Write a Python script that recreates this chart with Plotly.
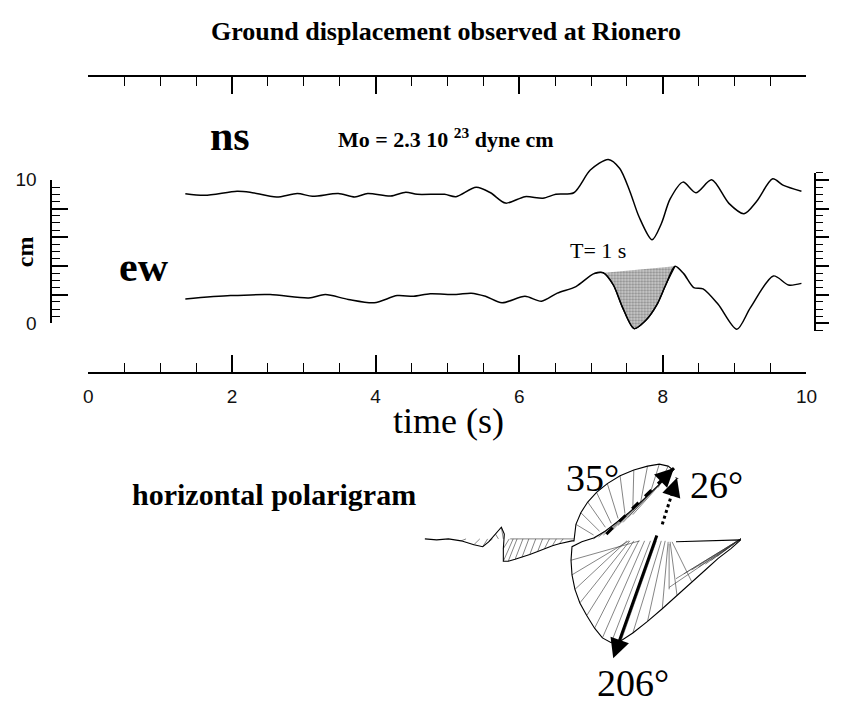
import plotly.graph_objects as go

# ---------------- data ----------------
# north-south component (time in s, displacement in cm)
ns_t = [1.35, 1.62, 2.07, 2.25, 2.62, 2.91, 3.12, 3.48, 3.71, 3.89, 4.21, 4.42, 4.58,
        4.96, 5.12, 5.40, 5.60, 5.81, 6.08, 6.33, 6.51, 6.76, 6.99, 7.24, 7.40, 7.54,
        7.67, 7.85, 7.98, 8.10, 8.28, 8.46, 8.68, 8.92, 9.13, 9.31, 9.53, 9.68, 9.93]
ns_cm = [9.03, 8.92, 9.21, 9.14, 8.80, 9.05, 8.85, 9.05, 8.80, 9.05, 8.87, 9.14, 8.99,
         8.99, 8.83, 9.48, 9.10, 8.38, 8.83, 8.72, 8.99, 9.10, 10.68, 11.42, 10.79, 9.21,
         7.41, 5.83, 6.96, 8.65, 9.84, 9.10, 10.00, 8.36, 7.64, 8.53, 10.07, 9.61, 9.21]

# east-west component
ew_t = [1.35, 1.98, 2.53, 3.07, 3.30, 3.62, 3.98, 4.30, 4.53, 4.76, 5.12, 5.33, 5.53,
        5.76, 6.08, 6.31, 6.53, 6.79, 7.04, 7.17, 7.31, 7.44, 7.60, 7.76, 7.92, 8.04,
        8.17, 8.29, 8.43, 8.56, 8.77, 9.03, 9.22, 9.54, 9.75, 9.93]
ew_cm = [1.71, 1.94, 2.01, 1.78, 2.01, 1.67, 1.44, 1.94, 1.89, 2.07, 2.01, 2.11, 1.89,
         1.44, 1.89, 1.55, 2.11, 2.57, 3.47, 3.53, 2.68, 1.10, -0.36, 0.20, 1.33, 2.68,
         3.99, 3.47, 2.50, 2.41, 1.33, -0.41, 1.10, 3.31, 2.68, 2.79]
shade_first, shade_last = 18, 26          # T = 1 s pulse on the ew trace

x_major = [0, 2, 4, 6, 8, 10]
x_labels = ["0", "2", "4", "6", "8", "10"]
y_major = [0, 2, 4, 6, 8, 10]
y_labels = ["0", "", "", "", "", "10"]

# horizontal polarigram (east, north) in drawing units
pol_east = [-152, -140, -128, -115, -102, -93, -87, -80, -74, -71, -72, -72, -67, -60, -53,
            -45, -37, -30, -22, -15, -8, -2,
            0, 2, 7, 14, 23, 34, 47, 61, 75, 87, 96, 101,
            92, 80, 68, 56, 44, 32, 20, 8, -2,
            -3, -2, 1, 6, 13, 21, 29, 38, 48, 60, 75, 90, 105, 120, 135, 147, 160, 170,
            104]
pol_north = [0, -1, 0, -2, -6, -8, -3, 5, 12, 5, -10, -23, -23, -21, -19,
             -16, -13, -10, -7, -5, -3, -2,
             -2, 15, 27, 38, 48, 57, 65, 71, 75, 77, 75, 71,
             61, 49, 38, 27, 17, 8, 1, -3, -8,
             -22, -37, -52, -66, -79, -92, -102, -107, -105, -97, -85, -72, -58, -44, -31, -20, -10, -1,
             -3]
# hatch segments: start (east, north) -> end (east, north)
hatch_e0 = [-115, -102, -93, -87, -80, -74, -72, -72, -67, -60, -53, -45, -37, -30, -22, -15, -65,
            2, 7, 14, 23, 34, 47, 61, 75, 87, 96,
            92, 80, 68, 56, 44, 86, 74, 62, 50,
            -3, -2, 1, 6, 13, 21, 29, 38, 48, 60, 75, 90, 105, 120,
            170, 170, 170, 170, 170, 170, 170, 170, 170, 97]
hatch_n0 = [-2, -6, -8, -3, 5, 12, -10, -23, -23, -21, -19, -16, -13, -10, -7, -5, 0,
            15, 27, 38, 48, 57, 65, 71, 75, 77, 75,
            61, 49, 38, 27, 17, 55, 43, 32, 22,
            -22, -37, -52, -66, -79, -92, -102, -107, -105, -97, -85, -72, -58, -44,
            0, 0, 0, 0, 0, 0, 0, 0, 0, -5]
hatch_e1 = [-110, -96, -88, -83, -77, -72, -66, -62, -58, -52, -46, -39, -32, -25, -18, -11, 0,
            20, 26, 32, 38, 45, 52, 60, 68, 77, 86,
            60, 50, 40, 30, 20, 55, 45, 35, 25,
            67, 56, 54, 57, 61, 66, 72, 78, 84, 89, 93, 96, 98, 100,
            97, 104, 112, 120, 127, 134, 140, 146, 152, 97]
hatch_n1 = [0, 0, 0, 0, 0, 0, 0, 0, 0, 0, 0, 0, 0, 0, 0, 0, 0,
            4, 8, 12, 16, 21, 26, 32, 38, 45, 53,
            25, 17, 10, 4, 0, 22, 14, 7, 2,
            -2, -2, -2, -2, -2, -2, -2, -2, -2, -2, -2, -3, -3, -3,
            -50, -41, -36, -32, -29, -26, -22, -18, -13, -52]

# polarization arrows: (tail east, tail north, head east, head north)
arrow_206 = (85, 5, 40, -123)
arrow_35 = (33, 5, 102, 73)
arrow_26 = (90, 15, 105, 63)
angle_labels = ["35°", "26°", "206°"]
angle_label_e = [19, 145, 60]
angle_label_n = [63, 56, -148]

# ---------------- figure ----------------
W, H = 841, 711
SERIF = "Liberation Serif"
SANS = "Liberation Sans"


def px(p):
    return p / W


def py(p):
    return 1 - p / H


fig = go.Figure()

# shaded pulse
fig.add_trace(go.Scatter(
    x=ew_t[shade_first:shade_last + 1], y=ew_cm[shade_first:shade_last + 1],
    mode="lines", fill="toself", fillcolor="#bdbdbd",
    fillpattern=dict(shape=".", size=3, solidity=0.45, fgcolor="#444444", bgcolor="#cfcfcf"),
    line=dict(color="black", width=1.2, shape="spline", smoothing=0.8),
    xaxis="x", yaxis="y", hoverinfo="skip"))

fig.add_trace(go.Scatter(x=ns_t, y=ns_cm, mode="lines",
                         line=dict(color="black", width=1.5, shape="spline", smoothing=0.8),
                         xaxis="x", yaxis="y"))
fig.add_trace(go.Scatter(x=ew_t, y=ew_cm, mode="lines",
                         line=dict(color="black", width=1.5, shape="spline", smoothing=0.8),
                         xaxis="x", yaxis="y"))

# dummy traces so the decorative axes get drawn
for xa, ya in [("x", "y2"), ("x", "y3"), ("x2", "y")]:
    fig.add_trace(go.Scatter(x=[None], y=[None], mode="lines", xaxis=xa, yaxis=ya,
                             hoverinfo="skip"))

# polarigram hatch
hx, hy = [], []
for e0, n0, e1, n1 in zip(hatch_e0, hatch_n0, hatch_e1, hatch_n1):
    hx += [e0, e1, None]
    hy += [n0, n1, None]
fig.add_trace(go.Scatter(x=hx, y=hy, mode="lines", line=dict(color="#333333", width=0.6),
                         xaxis="x4", yaxis="y4", hoverinfo="skip"))
fig.add_trace(go.Scatter(x=pol_east, y=pol_north, mode="lines",
                         line=dict(color="black", width=1.1),
                         xaxis="x4", yaxis="y4", hoverinfo="skip"))
# dashed 35 deg and dotted 26 deg shafts
fig.add_trace(go.Scatter(x=[arrow_35[0], arrow_35[2]], y=[arrow_35[1], arrow_35[3]], mode="lines",
                         line=dict(color="black", width=3, dash="dash"),
                         xaxis="x4", yaxis="y4", hoverinfo="skip"))
fig.add_trace(go.Scatter(x=[arrow_26[0], arrow_26[2]], y=[arrow_26[1], arrow_26[3]], mode="lines",
                         line=dict(color="black", width=3, dash="dot"),
                         xaxis="x4", yaxis="y4", hoverinfo="skip"))

annotations = []


def text(x, y, s, size, bold=False, font=SERIF, xref="paper", yref="paper", **kw):
    annotations.append(dict(x=x, y=y, xref=xref, yref=yref, xanchor="center", yanchor="middle",
                            text=f"<b>{s}</b>" if bold else s, showarrow=False,
                            font=dict(family=font, size=size, color="black"), **kw))


text(px(450), py(22), "Ground displacement observed at Rionero", 26, bold=True)
text(px(229), py(130), "ns", 42, bold=True)
text(px(450), py(132), "Mo = 2.3 10 <sup>23</sup> dyne cm", 22, bold=True)
text(px(142), py(265), "ew", 42, bold=True)
text(px(20), py(249), "cm", 24, bold=True, textangle=-90)
text(7.1, 5.1, "T= 1 s", 22, xref="x", yref="y")
text(px(452), py(424), "time (s)", 36)
text(px(274), py(499), "horizontal polarigram", 30, bold=True)
for s, e, n in zip(angle_labels, angle_label_e, angle_label_n):
    text(e, n, s, 38, xref="x4", yref="y4")

for arr, full in [(arrow_206, True), (arrow_35, False), (arrow_26, False)]:
    te, tn, he, hn = arr
    if not full:
        # short solid piece carrying the head
        te, tn = he - (he - te) * 0.18, hn - (hn - tn) * 0.18
    annotations.append(dict(x=he, y=hn, ax=te, ay=tn, xref="x4", yref="y4", axref="x4", ayref="y4",
                            showarrow=True, arrowhead=2, arrowsize=1.3 if full else 1.5,
                            arrowwidth=3 if full else 2.5, arrowcolor="black", text=""))

x_dom = [px(85), px(817)]
axis_common = dict(showgrid=False, zeroline=False, linecolor="black", linewidth=1.5,
                   tickcolor="black", tickwidth=1.5)
fig.update_layout(
    width=W, height=H, margin=dict(l=0, r=0, t=0, b=0),
    paper_bgcolor="white", plot_bgcolor="rgba(0,0,0,0)", showlegend=False,
    annotations=annotations,
    xaxis=dict(range=[0, 10], domain=x_dom, anchor="free", position=py(374), side="bottom",
               showline=True, ticks="inside", ticklen=17, tickvals=x_major, ticktext=x_labels,
               tickfont=dict(family=SANS, size=19, color="#111111"), ticklabelstandoff=6,
               minor=dict(ticks="inside", ticklen=9, dtick=0.5, tick0=0, tickcolor="black",
                          tickwidth=1.2),
               **axis_common),
    xaxis2=dict(range=[0, 10], domain=x_dom, anchor="free", position=py(68), side="top",
                showline=True, ticks="inside", ticklen=17, tickvals=x_major,
                showticklabels=False,
                minor=dict(ticks="inside", ticklen=9, dtick=0.5, tick0=0, tickcolor="black",
                           tickwidth=1.2),
                **axis_common),
    yaxis=dict(range=[-1, 12], domain=[py(323 + 14.8), py(323 - 12 * 14.8)], anchor="x",
               visible=False),
    yaxis2=dict(range=[0, 10], domain=[py(323), py(175)], anchor="free", position=px(47),
                side="left", showline=True, ticks="inside", ticklen=16, tickvals=y_major,
                ticktext=y_labels, tickfont=dict(family=SANS, size=19, color="#111111"),
                ticklabelstandoff=10,
                minor=dict(ticks="inside", ticklen=8, dtick=0.5, tick0=0, tickcolor="black",
                           tickwidth=1.2),
                **axis_common),
    yaxis3=dict(range=[-0.5, 10.5], domain=[py(330.4), py(167.6)], anchor="free",
                position=px(826), side="right", showline=True, ticks="outside", ticklen=13,
                tickvals=y_major, showticklabels=False,
                minor=dict(ticks="outside", ticklen=7, dtick=0.5, tick0=0, tickcolor="black",
                           tickwidth=1.2),
                **axis_common),
    xaxis4=dict(range=[-180, 220], domain=[px(400), px(800)], anchor="y4", visible=False),
    yaxis4=dict(range=[545 - 711, 545 - 440], domain=[0, py(440)], anchor="x4", visible=False),
)

fig.write_html("out.html")
